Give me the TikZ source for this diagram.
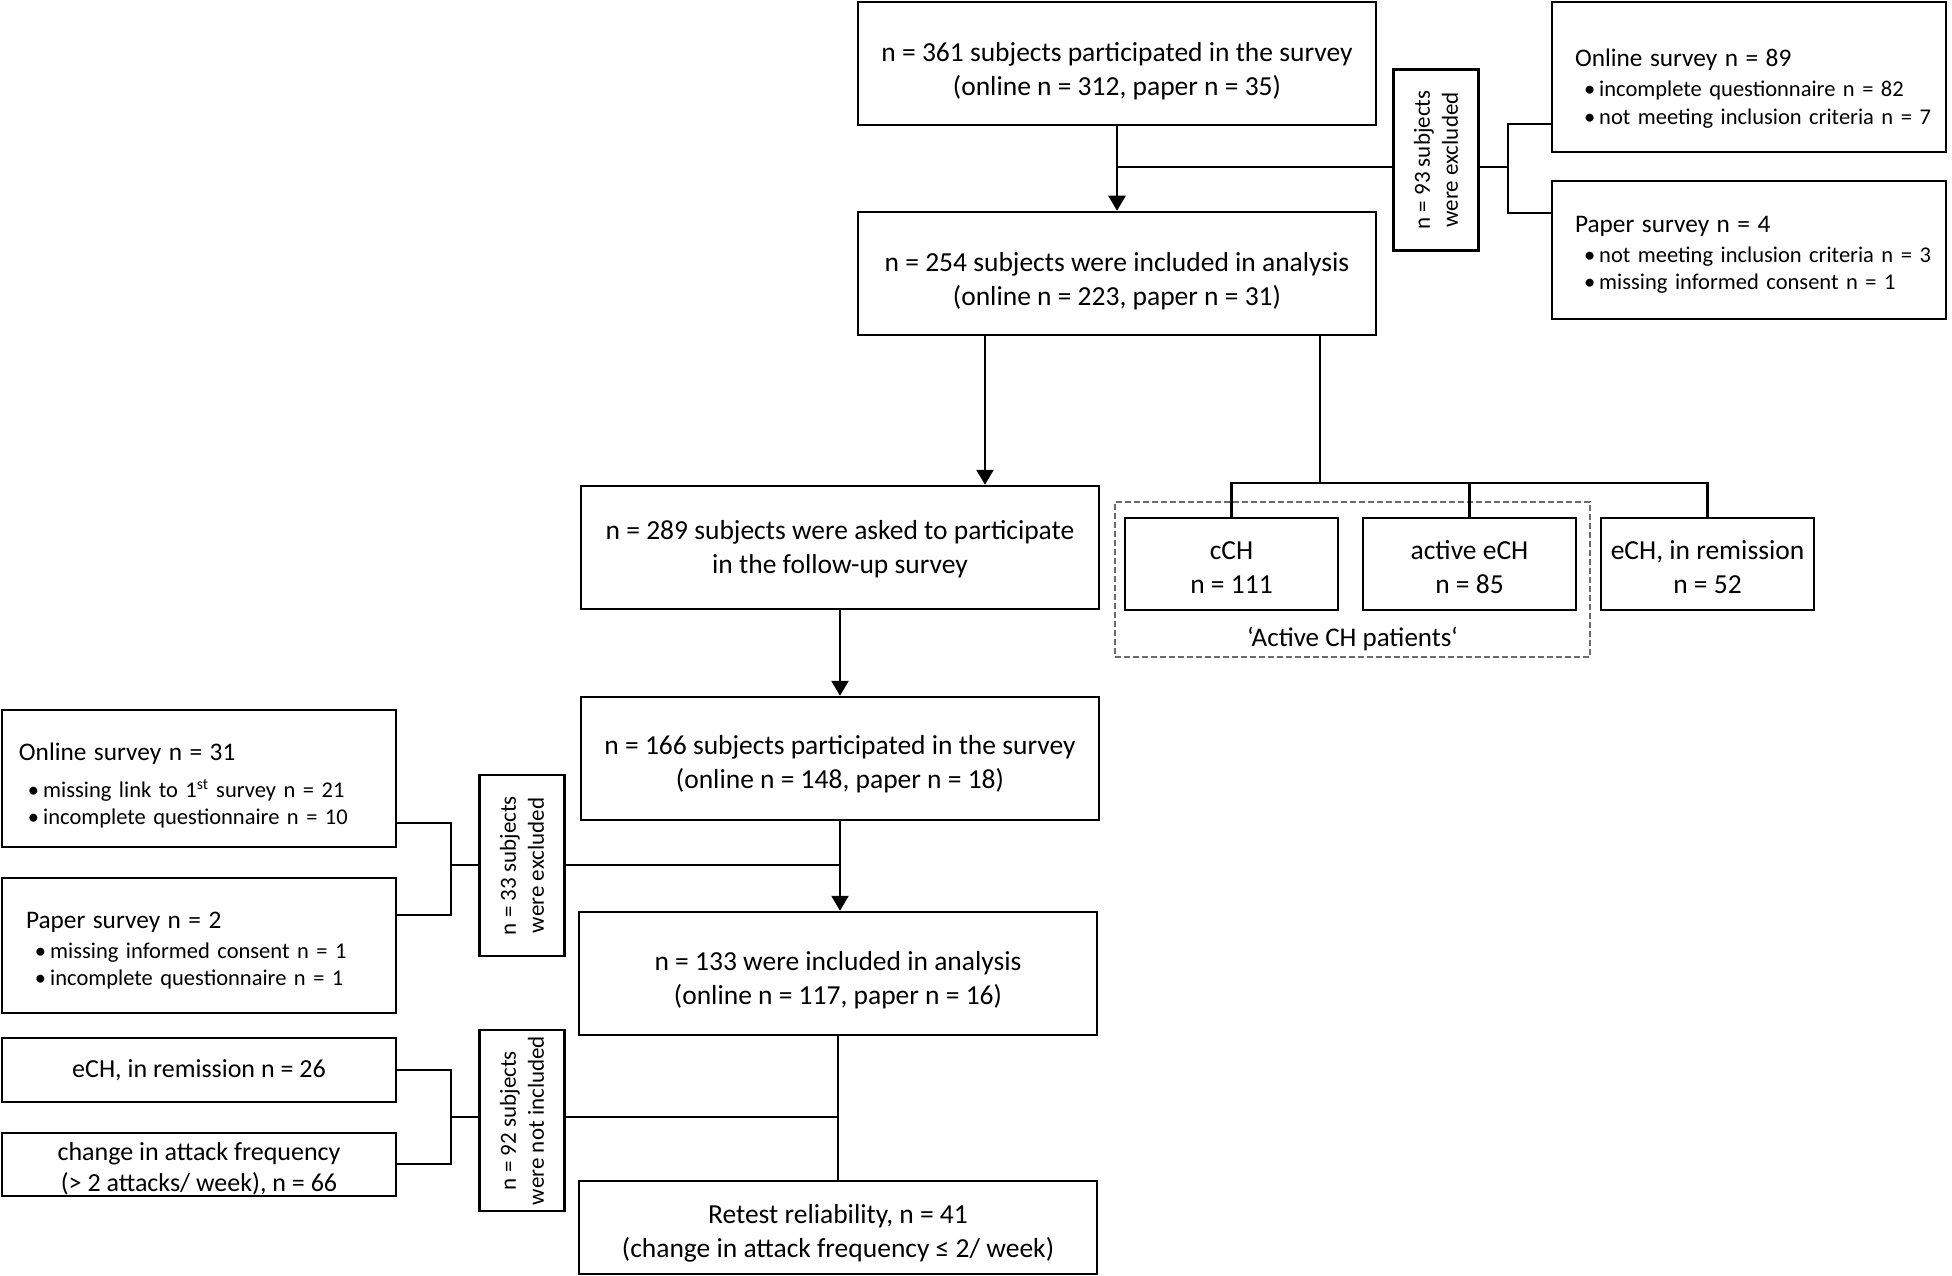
\documentclass[tikz,border=0pt]{standalone}
\usepackage{fontspec}
\setmainfont{Carlito}
\usetikzlibrary{arrows.meta,calc}

\newcommand{\mainsize}{\fontsize{27.5}{34}\selectfont}
\newcommand{\headsize}{\fontsize{25.3}{30}\selectfont}
\newcommand{\itemsize}{\fontsize{22.5}{27.5}\selectfont}
\newcommand{\sidesize}{\fontsize{23}{28}\selectfont}
\newcommand{\leftsize}{\fontsize{26}{31}\selectfont}
\newcommand{\li}[1]{\mbox{\hspace*{9pt}\textbullet\hspace{4pt}#1}}

\tikzset{
  box/.style={draw, line width=2.5pt, align=center, inner sep=0pt, font=\mainsize},
  % text height/depth move the text in its box (last line is the base line)
  mainbox/.style={box, minimum width=518pt, minimum height=123pt, text depth=7pt, text height=#1},
  mainbox/.default=71pt,
  catbox/.style={box, minimum width=213pt, minimum height=92pt, text depth=7pt, text height=66pt},
  % here the first line is the base line
  listbox/.style={box, align=left, minimum width=394pt, text width=#1, font=\itemsize, text depth=62.5pt},
  sidebox/.style={box, minimum width=394pt, font=\leftsize},
  exclbox/.style={box, rotate=90, minimum width=181pt, minimum height=85pt, font=\sidesize},
  line/.style={line width=2.5pt},
  arr/.style={line, -{Triangle[length=15pt,width=17pt]}},
}

\begin{document}
\begin{tikzpicture}[x=1pt, y=-1pt]
        \useasboundingbox (0,0) rectangle (1952,1276);
        % first survey
        \node[mainbox] (start) at (1117,63.5) {n = 361 subjects participated in the survey\\(online n = 312, paper n = 35)};
        \node[mainbox=71.8pt] (incl) at (1117,273.5) {n = 254 subjects were included in analysis\\(online n = 223, paper n = 31)};
        \node[exclbox] (excl93) at (1436,160) {n = 93 subjects\\were excluded};
        \node[listbox=348pt, minimum height=150pt, text height=42pt] (online89) at (1749,77)
            {{\headsize Online survey n = 89}\\[2.5pt]
             \li{incomplete questionnaire n = 82}\\
             \li{not meeting inclusion criteria n = 7}};
        \node[listbox=348pt, minimum height=138pt, text height=27.1pt] (paper4) at (1749,250)
            {{\headsize Paper survey n = 4}\\[2.5pt]
             \li{not meeting inclusion criteria n = 3}\\
             \li{missing informed consent n = 1}};
        % groups
        \node[catbox] (cch) at (1231.5,564) {cCH\\n = 111};
        \node[catbox] (act) at (1469.5,564) {active eCH\\n = 85};
        \node[catbox] (rem52) at (1707.5,564) {eCH, in remission\\n = 52};
        \node[draw=gray!85!black, line width=2.5pt, dash pattern=on 6pt off 3pt,
              minimum width=475pt, minimum height=155pt] (activegrp) at (1352.5,579.5) {};
        \node[font=\fontsize{27}{32}\selectfont] (activelbl) at (1352.5,639) {‘Active CH patients‘};
        % follow-up survey
        \node[mainbox=59.2pt] (asked) at (840,547.5) {n = 289 subjects were asked to participate\\in the follow-up survey};
        \node[mainbox=67.8pt] (part) at (840,758.5) {n = 166 subjects participated in the survey\\(online n = 148, paper n = 18)};
        \node[mainbox=68.6pt] (incl2) at (838,973.5) {n = 133 were included in analysis\\(online n = 117, paper n = 16)};
        \node[mainbox=66pt, minimum height=93pt] (retest) at (838,1227.5) {Retest reliability, n = 41\\(change in attack frequency ≤ 2/ week)};
        \node[exclbox] (excl33) at (522,865.5) {n = 33 subjects\\were excluded};
        \node[exclbox] (excl92) at (522,1120.5) {n = 92 subjects\\were not included};
        \node[listbox=360pt, minimum height=137pt, text height=35.9pt, text depth=72.5pt] (online31) at (199,778.5)
            {{\headsize Online survey n = 31}\\[9.5pt]
             \li{missing link to 1\textsuperscript{st} survey n = 21}\\
             \li{incomplete questionnaire n = 10}};
        \node[listbox=346pt, minimum height=135pt, text height=28.1pt] (paper2) at (199,945.5)
            {{\headsize Paper survey n = 2}\\[2.5pt]
             \li{missing informed consent n = 1}\\
             \li{incomplete questionnaire n = 1}};
        \node[sidebox, minimum height=64pt] (rem26) at (199,1070) {eCH, in remission n = 26};
        \node[sidebox, minimum height=63pt, text height=58pt, text depth=5pt] (chg66) at (199,1164.5) {change in attack frequency\\(> 2 attacks/ week), n = 66};

        % junctions
        \coordinate (j0) at (1117,167);
        \coordinate (j93) at (1508,167);
        \coordinate (j93a) at (1508,124);
        \coordinate (j93b) at (1508,213);
        \coordinate (jcat) at (1320,483);
        \coordinate (j33) at (451,865);
        \coordinate (j33a) at (451,823);
        \coordinate (j33b) at (451,915);
        \coordinate (j92) at (451,1117);
        \coordinate (j92a) at (451,1070);
        \coordinate (j92b) at (451,1164);

        % connectors (excl boxes are turned: north is left, south is right)
        \draw[arr] (start.south) -- (incl.north);
        \draw[line] (excl93.north |- j0) -- (j0);
        \draw[line] (excl93.south |- j93) -- (j93);
        \draw[line] (online89.west |- j93a) -- (j93a) -- (j93b) -- (paper4.west |- j93b);
        \draw[arr] ([xshift=-132pt]incl.south) -- ([xshift=-132pt]incl.south |- asked.north);
        \draw[line] ([xshift=203pt]incl.south) -- (jcat);
        \draw[line] (cch.north) -- (cch.north |- jcat) -- (rem52.north |- jcat) -- (rem52.north);
        \draw[line] (act.north) -- (act.north |- jcat);
        \draw[arr] (asked.south) -- (part.north);
        \draw[arr] (part.south) -- (part.south |- incl2.north);
        \draw[line] (online31.east |- j33a) -- (j33a) -- (j33b) -- (paper2.east |- j33b);
        \draw[line] (j33) -- (excl33.north |- j33);
        \draw[line] (excl33.south |- j33) -- (j33 -| part.south);
        \draw[line] (incl2.south) -- (retest.north);
        \draw[line] (rem26.east |- j92a) -- (j92a) -- (j92b) -- (chg66.east |- j92b);
        \draw[line] (j92) -- (excl92.north |- j92);
        \draw[line] (excl92.south |- j92) -- (j92 -| incl2.south);
\end{tikzpicture}
\end{document}
